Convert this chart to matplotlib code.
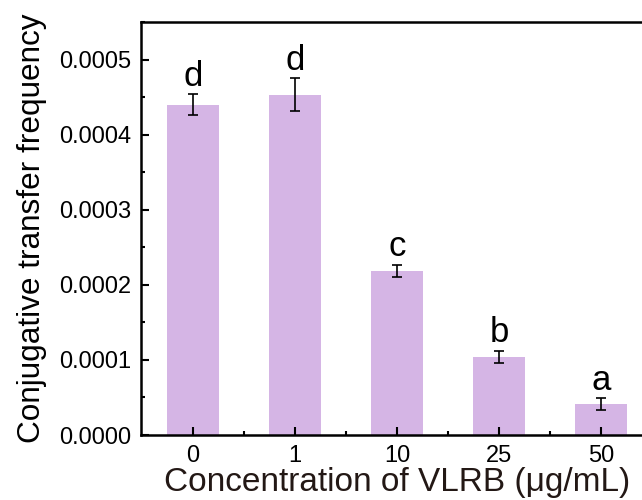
import matplotlib.pyplot as plt
from matplotlib.ticker import MultipleLocator, FixedLocator

plt.rcParams['font.family'] = ['Liberation Sans', 'DejaVu Sans']

concentrations = ['0', '1', '10', '25', '50']
frequency = [0.000440, 0.000453, 0.000219, 0.000104, 0.000041]
errors = [0.000014, 0.000022, 0.000008, 0.000008, 0.000008]
letters = ['d', 'd', 'c', 'b', 'a']

fig = plt.figure(figsize=(6.42, 5.0), dpi=100)
ax = fig.add_axes([0.2196, 0.13, 0.7975, 0.826])

x = list(range(len(concentrations)))
ax.bar(x, frequency, width=0.51, color='#d5b5e5')
ax.errorbar(x, frequency, yerr=errors, fmt='none', ecolor='black',
            elinewidth=1.2, capsize=3.5, capthick=1.2)

for xi, v, e, lab in zip(x, frequency, errors, letters):
    ax.text(xi, v + e + 0.000002, lab, ha='center', va='bottom', fontsize=25)

ax.set_xlim(-0.51, 4.51)
ax.set_ylim(0, 0.00055)
ax.set_xticks(x)
ax.set_xticklabels(concentrations)
ax.xaxis.set_minor_locator(FixedLocator([0.5, 1.5, 2.5, 3.5]))
ax.set_yticks([0, 0.0001, 0.0002, 0.0003, 0.0004, 0.0005])
ax.set_yticklabels(['0.0000', '0.0001', '0.0002', '0.0003', '0.0004', '0.0005'])
ax.yaxis.set_minor_locator(MultipleLocator(0.00005))

ax.tick_params(which='both', direction='in', width=1.5, labelsize=17, colors='black')
ax.tick_params(which='major', length=6, pad=7)
ax.tick_params(which='minor', length=3)
for s in ax.spines.values():
    s.set_linewidth(1.8)

ax.set_xlabel('Concentration of VLRB (μg/mL)', fontsize=24, labelpad=0, color='#231815')
ax.set_ylabel('Conjugative transfer frequency', fontsize=22.7, labelpad=9)

fig.savefig('out.png', dpi=100)
